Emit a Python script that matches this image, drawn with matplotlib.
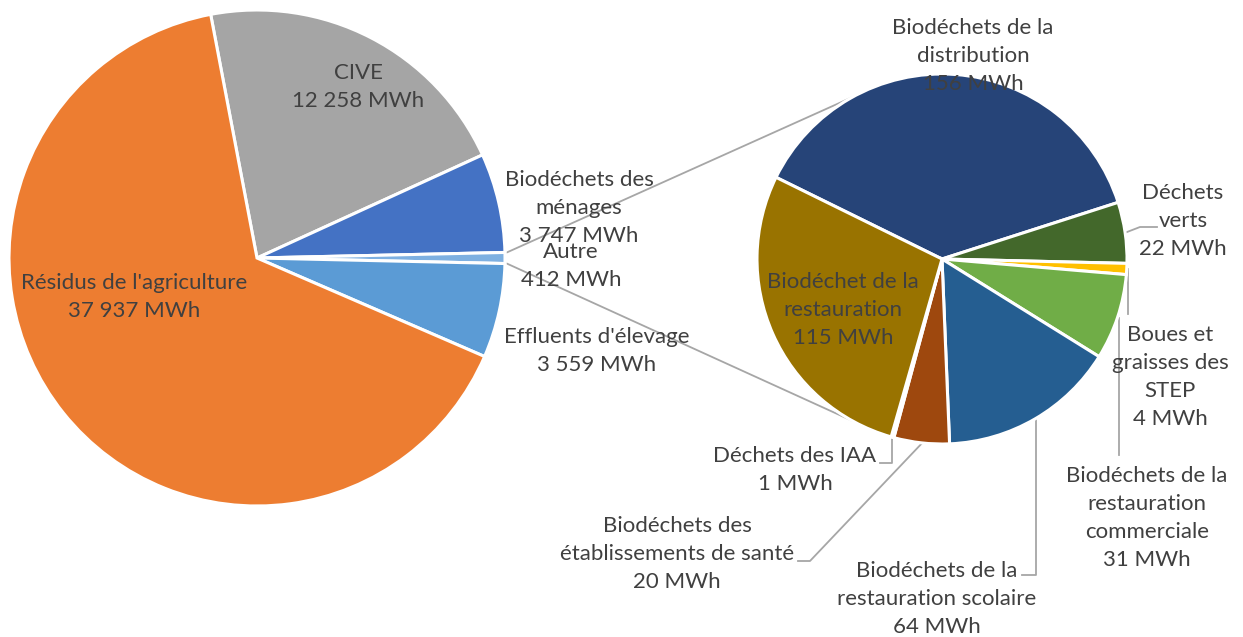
import numpy as np
import matplotlib.pyplot as plt

plt.rcParams['font.family'] = ['Lato', 'DejaVu Sans']

W, H = 1243, 637

# main pie: gisements
main_labels = ['CIVE', 'Biodéchets des\nménages', 'Autre', "Effluents d'élevage",
               "Résidus de l'agriculture"]
main_values = [12258, 3747, 412, 3559, 37937]
main_colors = ['#A5A5A5', '#4472C4', '#7EB0E1', '#5B9BD5', '#ED7D31']

# detail of "Autre"
sub_labels = ['Biodéchets de la\ndistribution', 'Déchets\nverts', 'Boues et\ngraisses des\nSTEP',
              'Biodéchets de la\nrestauration\ncommerciale', 'Biodéchets de la\nrestauration scolaire',
              'Biodéchets des\nétablissements de santé', 'Déchets des IAA',
              'Biodéchet de la\nrestauration']
sub_values = [156, 22, 4, 31, 64, 20, 1, 115]
sub_colors = ['#264478', '#43682B', '#FFC000', '#70AD47', '#255E91', '#9E480E', '#636363', '#997300']

TXT = '#404040'
LINE = '#A6A6A6'
FS = 16
LSP = 1.5


def fmt(v):
    return f'{v:,}'.replace(',', ' ') + ' MWh'


def px(x, y):
    # pixel position (y from top) -> data coords
    return x, H - y


fig = plt.figure(figsize=(W / 100, H / 100), dpi=100)
ax = fig.add_axes([0, 0, 1, 1])

c1, r1 = px(257, 258), 248
c2, r2 = px(942, 259), 185

autre_i = main_labels.index('Autre')
start1 = 360 * (sum(main_values[:autre_i]) + main_values[autre_i] / 2) / sum(main_values)
w1, _ = ax.pie(main_values, colors=main_colors, startangle=start1, counterclock=False,
               center=c1, radius=r1, wedgeprops=dict(edgecolor='white', linewidth=2.2))
w2, _ = ax.pie(sub_values, colors=sub_colors, startangle=153.8, counterclock=False,
               center=c2, radius=r2, wedgeprops=dict(edgecolor='white', linewidth=2.2))


def edge(w, r_extra=0, ang=None):
    if ang is None:
        ang = (w.theta1 + w.theta2) / 2
    a = np.radians(ang)
    cx, cy = w.center
    return cx + (w.r + r_extra) * np.cos(a), cy + (w.r + r_extra) * np.sin(a)


# connector lines between the two pies
wa = w1[autre_i]
for th, sgn in [(wa.theta2, 1), (wa.theta1, -1)]:
    p0 = edge(wa, 2, th)
    a = np.radians(180 - sgn * 61)
    p1 = (c2[0] + r2 * np.cos(a), c2[1] + r2 * np.sin(a))
    ax.plot([p0[0], p1[0]], [p0[1], p1[1]], color=LINE, lw=1.3, zorder=0.5)

# labels of the main pie
main_pos = [(358, 87), (579, 208), (571, 266), (597, 351), (134, 297)]
for lab, v, (x, y) in zip(main_labels, main_values, main_pos):
    ax.text(*px(x, y), f'{lab}\n{fmt(v)}', ha='center', va='center', fontsize=FS,
            color=TXT, linespacing=LSP, zorder=5)

# labels of the detail pie, with leader line bends
sub_pos = [(973, 56), (1183, 221), (1170, 377), (1147, 518), (937, 599), (677, 554),
           (795, 470), (843, 310)]
leaders = {
    1: lambda e: [e, (1140, 227), (1157, 227)],
    2: lambda e: [e, (e[0], 314)],
    3: lambda e: [e, (e[0], 455)],
    4: lambda e: [e, (e[0], 575), (1022, 575)],
    5: lambda e: [e, (810, 561), (798, 561)],
    6: lambda e: [e, (e[0], 463), (880, 463)],
}
for i, (lab, v, (x, y)) in enumerate(zip(sub_labels, sub_values, sub_pos)):
    ax.text(*px(x, y), f'{lab}\n{fmt(v)}', ha='center', va='center', fontsize=FS,
            color=TXT, linespacing=LSP, zorder=5)
    if i in leaders:
        e = edge(w2[i], 1)
        pts = leaders[i]((e[0], H - e[1]))
        ax.plot([p[0] for p in pts], [H - p[1] for p in pts], color=LINE, lw=1.3, zorder=0.5)

ax.set_xlim(0, W)
ax.set_ylim(0, H)
ax.set_aspect('auto')
ax.axis('off')

fig.savefig('out.png', dpi=100)
